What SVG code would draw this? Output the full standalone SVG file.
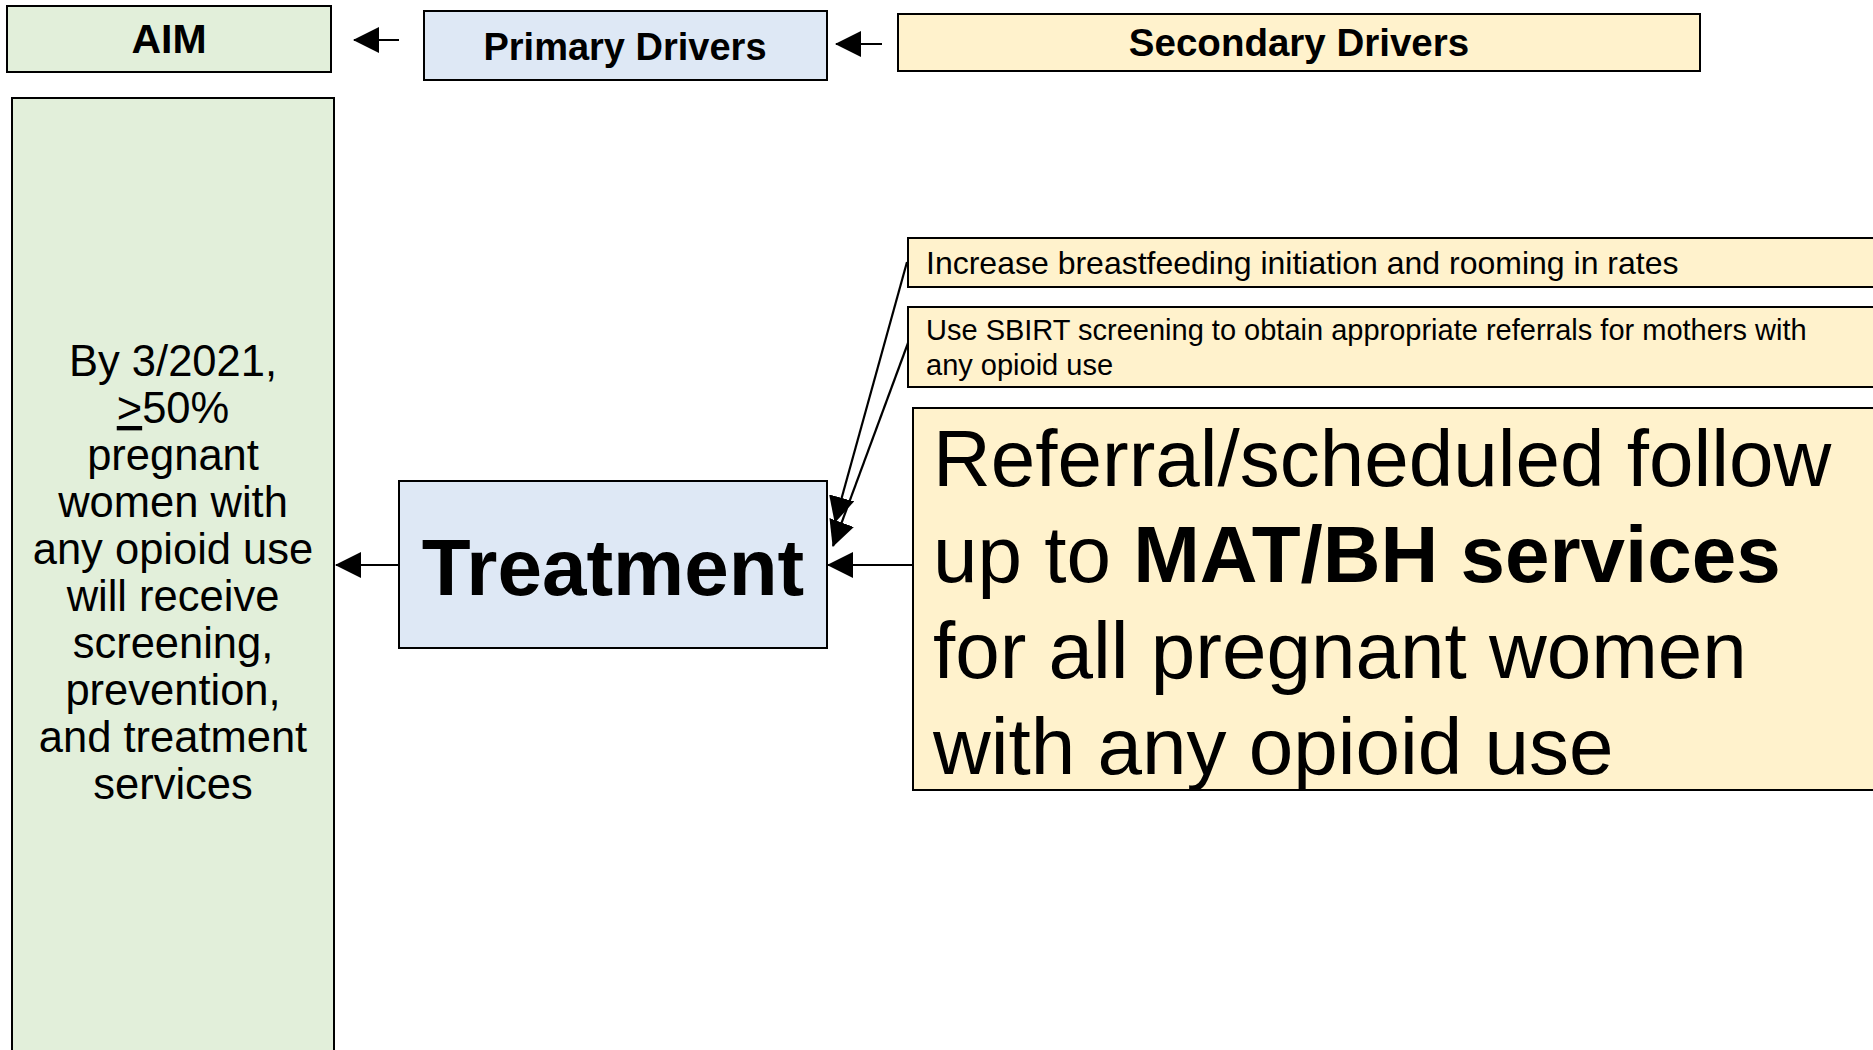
<svg xmlns="http://www.w3.org/2000/svg" width="1873" height="1050" viewBox="0 0 1873 1050">
<defs>
<style>
.box{stroke:#000;stroke-width:2}
.aim{fill:#e2efda}
.pri{fill:#dee8f5}
.sec{fill:#fff2cc}
.t{font-family:"Liberation Sans",Arial,sans-serif;fill:#000}
.b{font-weight:bold}
.a{font-size:43.5px;text-anchor:middle}
.conn{stroke:#000;stroke-width:2.2;fill:none}
</style>
<marker id="ahb" markerWidth="26" markerHeight="26" refX="25" refY="13" orient="auto" markerUnits="userSpaceOnUse" viewBox="0 0 26 26">
<path d="M0,0 L26,13 L0,26 z" fill="#000"/>
</marker>
</defs>
<rect width="1873" height="1050" fill="#fff"/>

<g id="aim-header">
<rect class="box aim" x="7" y="6" width="324" height="66"/>
<text class="t b" x="169" y="53" font-size="41" text-anchor="middle">AIM</text>
</g>
<g id="primary-header">
<rect class="box pri" x="424" y="11" width="403" height="69"/>
<text class="t b" x="625" y="60" font-size="38" text-anchor="middle">Primary Drivers</text>
</g>
<g id="secondary-header">
<rect class="box sec" x="898" y="14" width="802" height="57"/>
<text class="t b" x="1299" y="56" font-size="38.5" text-anchor="middle">Secondary Drivers</text>
</g>

<g id="aim">
<rect class="box aim" x="12" y="98" width="322" height="980"/>
<text class="t a" x="173" y="376">By 3/2021,</text>
<text class="t a" x="173" y="423"><tspan text-decoration="underline">&gt;</tspan>50%</text>
<text class="t a" x="173" y="470">pregnant</text>
<text class="t a" x="173" y="517">women with</text>
<text class="t a" x="173" y="564">any opioid use</text>
<text class="t a" x="173" y="611">will receive</text>
<text class="t a" x="173" y="658">screening,</text>
<text class="t a" x="173" y="705">prevention,</text>
<text class="t a" x="173" y="752">and treatment</text>
<text class="t a" x="173" y="799">services</text>
</g>

<g id="treatment">
<rect class="box pri" x="399" y="481" width="428" height="167"/>
<text class="t b" x="613" y="595" font-size="80" text-anchor="middle">Treatment</text>
</g>

<g id="breastfeeding">
<rect class="box sec" x="908" y="238" width="980" height="49"/>
<text class="t" x="926" y="274" font-size="32">Increase breastfeeding initiation and rooming in rates</text>
</g>

<g id="sbirt">
<rect class="box sec" x="908" y="307" width="980" height="80"/>
<text class="t" x="926" y="340" font-size="29">Use SBIRT screening to obtain appropriate referrals for mothers with</text>
<text class="t" x="926" y="375" font-size="29">any opioid use</text>
</g>

<g id="referral">
<rect class="box sec" x="913" y="408" width="980" height="382"/>
<text class="t" x="933" y="486" font-size="80">Referral/scheduled follow</text>
<text class="t" x="933" y="582" font-size="80">up to <tspan class="b">MAT/BH services</tspan></text>
<text class="t" x="933" y="678" font-size="80">for all pregnant women</text>
<text class="t" x="933" y="774" font-size="80">with any opioid use</text>
</g>

<g id="connectors">
<line class="conn" x1="399" y1="40" x2="354" y2="40" marker-end="url(#ahb)"/>
<line class="conn" x1="882" y1="44" x2="836" y2="44" marker-end="url(#ahb)"/>
<line class="conn" x1="399" y1="565" x2="336" y2="565" marker-end="url(#ahb)"/>
<line class="conn" x1="913" y1="565" x2="828" y2="565" marker-end="url(#ahb)"/>
<line class="conn" x1="907" y1="262" x2="835" y2="522" marker-end="url(#ahb)"/>
<line class="conn" x1="908" y1="343" x2="833" y2="546" marker-end="url(#ahb)"/>
</g>
</svg>
